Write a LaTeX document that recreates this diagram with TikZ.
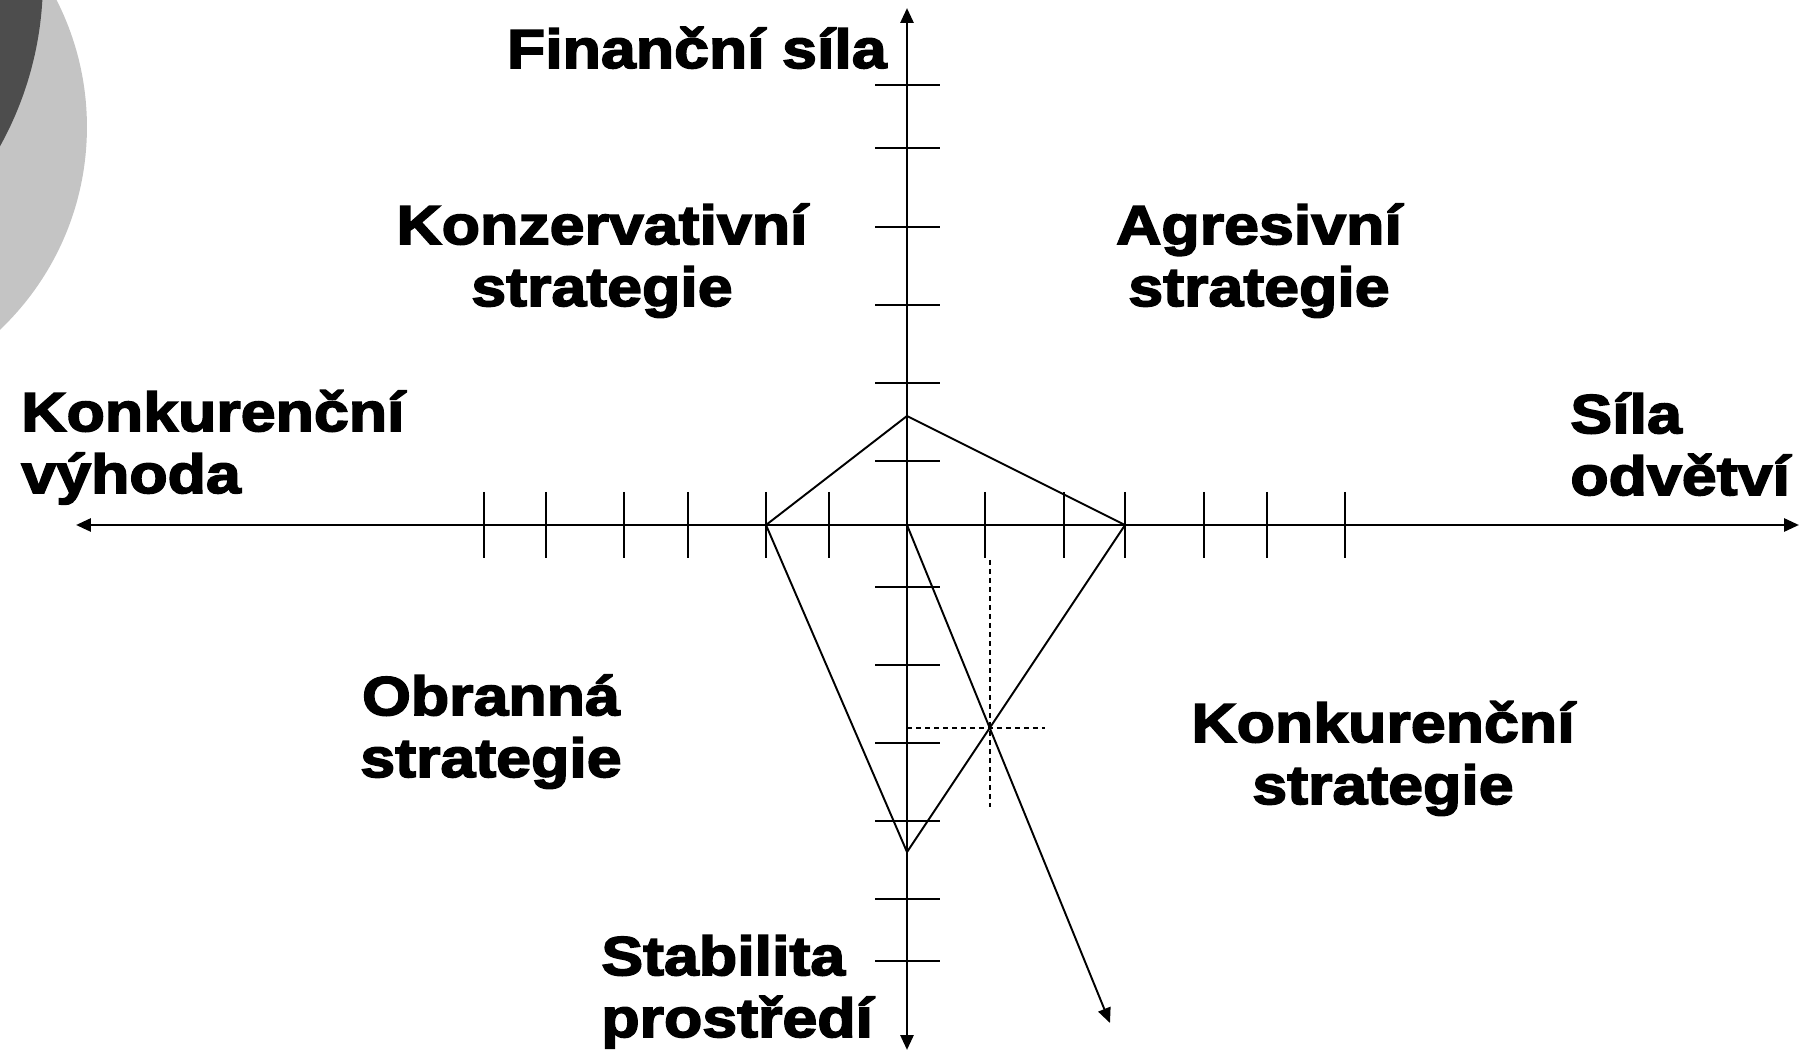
\documentclass[tikz,border=0pt]{standalone}
\usepackage{fontspec}
\usetikzlibrary{arrows.meta}

\newfontface\lblfont[FakeStretch=1.14,FakeBold=3]{Liberation Sans Bold}
\definecolor{discLight}{HTML}{C4C4C4}
\definecolor{discDark}{HTML}{4D4D4D}

\begin{document}
\begin{tikzpicture}[x=0.02cm,y=-0.02cm,
    axis/.style={line width=1.6pt,{Triangle[length=0.3cm,width=0.26cm]}-{Triangle[length=0.3cm,width=0.26cm]}},
    thin line/.style={line width=1.1pt},
    tick/.style={line width=1.1pt},
    guide/.style={line width=1.1pt,dash pattern=on 0.1cm off 0.08cm},
    lbl/.style={inner sep=0pt,font=\lblfont\fontsize{31.3}{35.2}\selectfont}]
  \useasboundingbox (0,0) rectangle (1803,1053);

  % Corner discs
  \begin{scope}
    \clip (0,0) rectangle (1803,1053);
    \fill[discLight] (-193,127) circle[radius=5.6cm];
    \fill[discDark] (-300,-20) circle[radius=6.86cm];
  \end{scope}

  % Axes
  \coordinate (O) at (907,525);
  \coordinate (N) at (907,8);
  \coordinate (S) at (907,1050);
  \coordinate (W) at (76,525);
  \coordinate (E) at (1799,525);
  \draw[axis] (W) -- (E);
  \draw[axis] (S) -- (N);

  % Ticks
  \foreach \x in {484,546,624,688,766,829,985,1064,1125,1204,1267,1345}
    \draw[tick] (\x,492) -- (\x,558);
  \foreach \y in {85,148,227,305,383,461,587,665,743,821,899,961}
    \draw[tick] (875,\y) -- (940,\y);

  % Position polygon
  \coordinate (P1) at (907,416);
  \coordinate (P2) at (1125,525);
  \coordinate (P3) at (907,852);
  \coordinate (P4) at (766,525);
  \draw[thin line] (P1) -- (P2) -- (P3) -- (P4) -- cycle;

  % Direction vector
  \coordinate (D) at (1110,1023);
  \draw[thin line,-{Triangle[length=0.3cm,width=0.26cm]}] (O) -- (D);
  \coordinate (X) at (intersection of O--D and P2--P3);
  \draw[guide] (X |- 0,560) -- (X |- 0,807);
  \draw[guide] (O |- X) -- (X -| 1045,0);

  % Labels (base = last line)
  \node[lbl,anchor=base east] (fin) at (887,68) {Finanční síla};
  \node[lbl,anchor=base,align=center] (kons) at (602,306) {Konzervativní\\strategie};
  \node[lbl,anchor=base,align=center] (agr) at (1259,306) {Agresivní\\strategie};
  \node[lbl,anchor=base west,align=left] (vyh) at (21,493) {Konkurenční\\výhoda};
  \node[lbl,anchor=base west,align=left] (odv) at (1570,495) {Síla\\odvětví};
  \node[lbl,anchor=base,align=center] (obr) at (491,777) {Obranná\\strategie};
  \node[lbl,anchor=base,align=center] (konk) at (1383,804) {Konkurenční\\strategie};
  \node[lbl,anchor=base west,align=left] (stab) at (601,1037) {Stabilita\\prostředí};
\end{tikzpicture}
\end{document}
